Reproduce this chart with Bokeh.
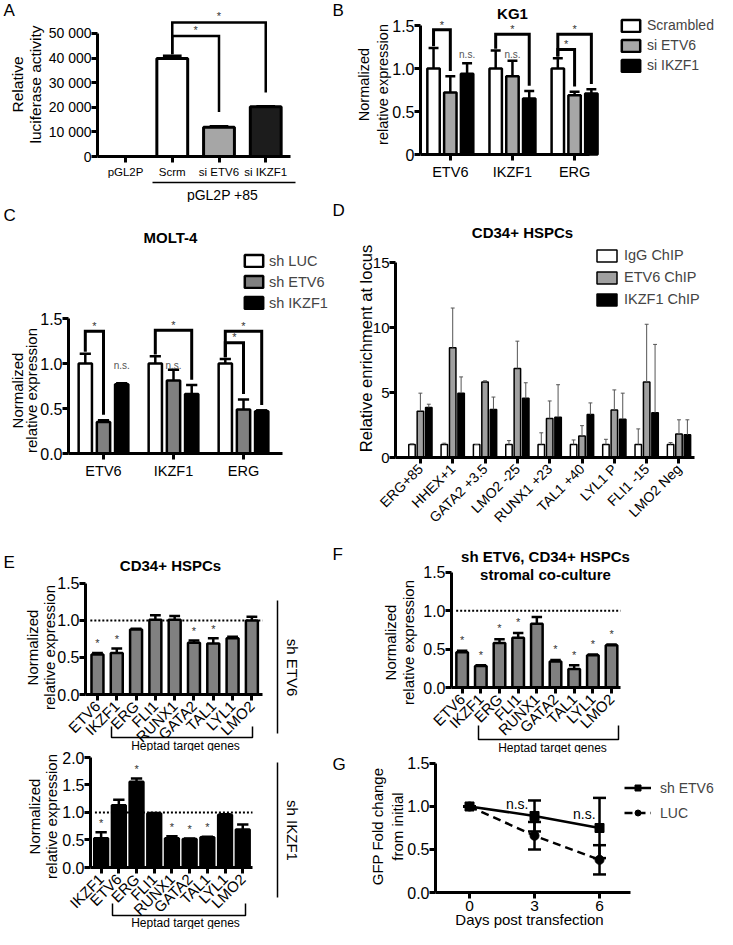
import math
from bokeh.plotting import figure
from bokeh.models import Range1d, Label, Legend, LegendItem, FixedTicker, LinearAxis
from bokeh.layouts import row, column
from bokeh.embed import file_html
from bokeh.resources import INLINE

FONT = "Liberation Sans"

# ---------------- data ----------------
# Panel A
A_labels = ["pGL2P", "Scrm", "si ETV6", "si IKZF1"]
A_values = [0, 39800, 11900, 20200]
A_errors = [0, 1200, 400, 200]
A_yticks = [0, 10000, 20000, 30000, 40000, 50000]
A_yticklabels = ["0", "10 000", "20 000", "30 000", "40 000", "50 000"]

# Panel B (KG1)
B_genes = ["ETV6", "IKZF1", "ERG"]
B_series = ["Scrambled", "si ETV6", "si IKZF1"]
B_scrambled = [1.00, 1.00, 1.00]
B_scrambled_err = [0.24, 0.21, 0.12]
B_si_etv6 = [0.72, 0.91, 0.69]
B_si_etv6_err = [0.19, 0.18, 0.04]
B_si_ikzf1 = [0.94, 0.65, 0.71]
B_si_ikzf1_err = [0.12, 0.09, 0.05]
B_brackets = [(0, 0, 1, 1.45), (1, 0, 2, 1.40), (2, 0, 2, 1.40), (2, 0, 1, 1.22)]
B_ns = [(0, 2), (1, 1)]
B_yticks = [0, 0.5, 1.0, 1.5]
B_yticklabels = ["0", "0.5", "1.0", "1.5"]

# Panel C (MOLT-4)
C_genes = ["ETV6", "IKZF1", "ERG"]
C_series = ["sh LUC", "sh ETV6", "sh IKZF1"]
C_sh_luc = [1.00, 1.00, 1.00]
C_sh_luc_err = [0.11, 0.08, 0.05]
C_sh_etv6 = [0.35, 0.81, 0.49]
C_sh_etv6_err = [0.02, 0.12, 0.11]
C_sh_ikzf1 = [0.77, 0.66, 0.47]
C_sh_ikzf1_err = [0.01, 0.10, 0.01]
C_brackets = [(0, 0, 1, 1.36), (1, 0, 2, 1.37), (2, 0, 2, 1.36), (2, 0, 1, 1.23)]
C_ns = [(0, 2), (1, 1)]
C_yticks = [0, 0.5, 1.0, 1.5]
C_yticklabels = ["0.0", "0.5", "1.0", "1.5"]

# Panel D (ChIP)
D_loci = ["ERG+85", "HHEX+1", "GATA2 +3.5", "LMO2 -25", "RUNX1 +23",
          "TAL1 +40", "LYL1 P", "FLI1 -15", "LMO2 Neg"]
D_series = ["IgG ChIP", "ETV6 ChIP", "IKZF1 ChIP"]
D_igg = [1.0, 1.0, 1.0, 1.0, 1.0, 1.0, 1.0, 1.0, 1.0]
D_igg_err = [0.05, 0.10, 0.0, 0.30, 0.90, 0.35, 0.40, 1.20, 0.15]
D_etv6 = [3.55, 8.45, 5.80, 6.85, 3.00, 1.65, 3.65, 5.80, 1.80]
D_etv6_err = [1.40, 3.05, 0.10, 2.10, 1.35, 0.80, 1.55, 4.45, 1.10]
D_ikzf1 = [3.85, 4.95, 3.70, 4.55, 3.10, 3.30, 2.95, 3.45, 1.75]
D_ikzf1_err = [0.25, 1.25, 0.95, 1.20, 2.50, 0.90, 2.00, 5.25, 1.15]
D_yticks = [0, 5, 10, 15]
D_yticklabels = ["0", "5", "10", "15"]

# Panel E (CD34+ HSPCs)
E1_genes = ["ETV6", "IKZF1", "ERG", "FLI1", "RUNX1", "GATA2", "TAL1", "LYL1", "LMO2"]
E1_values = [0.54, 0.56, 0.88, 1.01, 1.01, 0.70, 0.69, 0.76, 1.00]
E1_errors = [0.02, 0.06, 0.01, 0.06, 0.05, 0.03, 0.07, 0.02, 0.05]
E1_sig = [True, True, False, False, False, True, True, False, False]
E1_yticks = [0, 0.5, 1.0, 1.5]
E1_yticklabels = ["0.0", "0.5", "1.0", "1.5"]

E2_genes = ["IKZF1", "ETV6", "ERG", "FLI1", "RUNX1", "GATA2", "TAL1", "LYL1", "LMO2"]
E2_values = [0.53, 1.13, 1.56, 0.98, 0.53, 0.52, 0.55, 0.96, 0.69]
E2_errors = [0.11, 0.10, 0.06, 0.01, 0.04, 0.005, 0.01, 0.01, 0.09]
E2_sig = [True, False, True, False, True, True, True, False, False]
E2_yticks = [0, 0.5, 1.0, 1.5, 2.0]
E2_yticklabels = ["0.0", "0.5", "1.0", "1.5", "2.0"]

# Panel F (stromal co-culture)
F_genes = ["ETV6", "IKZF1", "ERG", "FLI1", "RUNX1", "GATA2", "TAL1", "LYL1", "LMO2"]
F_values = [0.46, 0.28, 0.58, 0.65, 0.83, 0.34, 0.24, 0.42, 0.55]
F_errors = [0.02, 0.01, 0.05, 0.06, 0.09, 0.02, 0.05, 0.01, 0.01]
F_sig = [True, True, True, True, False, True, True, True, True]
F_yticks = [0, 0.5, 1.0, 1.5]
F_yticklabels = ["0.0", "0.5", "1.0", "1.5"]

# Panel G (GFP time course)
G_days = [0, 3, 6]
G_sh_etv6 = [1.00, 0.89, 0.75]
G_sh_etv6_err = [0.0, 0.18, 0.35]
G_luc = [1.00, 0.66, 0.38]
G_luc_err = [0.0, 0.16, 0.17]
G_ns = [(2.2, 1.03), (5.3, 0.91)]
G_yticks = [0, 0.5, 1.0, 1.5]
G_yticklabels = ["0.0", "0.5", "1.0", "1.5"]


# ---------------- helpers ----------------
class Geo:
    """Figure of W x H px whose axes box sits L/R/T/B px from the edges."""
    def __init__(self, W, H, L, R, T, B, xr, yr):
        self.W, self.H = W, H
        self.xr, self.yr = xr, yr
        u = (xr[1] - xr[0]) / (W - L - R)
        v = (yr[1] - yr[0]) / (H - T - B)
        self.X0, self.X1 = xr[0] - L * u, xr[1] + R * u
        self.Y0, self.Y1 = yr[0] - B * v, yr[1] + T * v

    def dx(self, px):
        return self.X0 + px * (self.X1 - self.X0) / self.W

    def dy(self, py):
        return self.Y1 - py * (self.Y1 - self.Y0) / self.H


def style_axis(ax):
    ax.axis_line_width = 3
    ax.major_tick_line_width = 3
    ax.major_tick_in = 0
    ax.major_tick_out = 6
    ax.minor_tick_line_color = None
    ax.major_label_text_font = FONT
    ax.major_label_text_color = "black"
    ax.major_label_standoff = 3


def make_fig(g, ybounds):
    p = figure(width=g.W, height=g.H, x_range=Range1d(g.X0, g.X1),
               y_range=Range1d(g.Y0, g.Y1), title=None,
               x_axis_location=None, y_axis_location=None,
               output_backend="svg", toolbar_location=None,
               min_border=0, min_border_left=0, min_border_right=0,
               min_border_top=0, min_border_bottom=0)
    p.outline_line_color = None
    p.xgrid.visible = False
    p.ygrid.visible = False
    p.background_fill_color = "white"
    p.border_fill_color = "white"
    xa = LinearAxis(fixed_location=g.yr[0], bounds=(g.xr[0], g.xr[1]))
    ya = LinearAxis(fixed_location=g.xr[0], bounds=ybounds)
    style_axis(xa)
    style_axis(ya)
    ya.major_label_standoff = 0
    p.add_layout(xa, "below")
    p.add_layout(ya, "left")
    return p, xa, ya


def set_ticks(ax, ticks, labels, size, orient=None):
    ax.ticker = FixedTicker(ticks=list(ticks))
    ax.major_label_overrides = {t: l for t, l in zip(ticks, labels)}
    ax.major_label_text_font_size = f"{size}px"
    if orient is not None:
        ax.major_label_orientation = orient


def slabel(p, g, x, y, text, size=15, bold=False, angle=0.0, align="center",
           color="black"):
    p.add_layout(Label(x=g.dx(x), y=g.dy(y), text=text, text_font=FONT,
                       text_font_size=f"{size}px",
                       text_font_style="bold" if bold else "normal",
                       text_align=align, text_baseline="middle",
                       text_color=color, angle=angle))


def dlabel(p, x, y, text, size=11, color="#333333"):
    p.add_layout(Label(x=x, y=y, text=text, text_font=FONT,
                       text_font_size=f"{size}px", text_color=color,
                       text_align="center", text_baseline="middle"))


def sline(p, g, pts, w=1.5):
    p.line(x=[g.dx(a) for a, b in pts], y=[g.dy(b) for a, b in pts],
           line_width=w, line_color="black")


def err_up(p, xs, tops, errs, half, lw=2.5, color="black"):
    hi = [t + e for t, e in zip(tops, errs)]
    p.segment(x0=xs, y0=tops, x1=xs, y1=hi, line_width=lw, line_color=color)
    p.segment(x0=[x - half for x in xs], y0=hi, x1=[x + half for x in xs], y1=hi,
              line_width=lw, line_color=color)


def bracket(p, x1, x2, y, y1b, y2b, lw=3):
    p.line(x=[x1, x1, x2, x2], y=[y1b, y, y, y2b], line_width=lw,
           line_color="black", line_join="miter")


def make_legend(p, g, renderers, labels, left, top, gw, gh, lh, standoff, size=14):
    items = [LegendItem(label=l, renderers=r) for l, r in zip(labels, renderers)]
    bottom = top + lh * len(items)
    leg = Legend(items=items, location=(left, g.H - bottom), glyph_width=gw,
                 glyph_height=gh, label_height=lh, spacing=0, padding=0, margin=0,
                 label_standoff=standoff, label_text_font=FONT,
                 label_text_font_size=f"{size}px", border_line_alpha=0,
                 background_fill_alpha=0)
    p.add_layout(leg)


def grouped(p, series_vals, series_errs, offs, width, fills, lw_bar, lw_err, half,
            err_color="black"):
    rs = []
    for s, (vals, errs) in enumerate(zip(series_vals, series_errs)):
        xs = [k + offs[s] for k in range(len(vals))]
        r = p.vbar(x=xs, top=vals, width=width, bottom=0, fill_color=fills[s],
                   line_color="black", line_width=lw_bar)
        rs.append(r)
        err_up(p, xs, vals, errs, half, lw=lw_err, color=err_color)
    return rs


def single(p, g, vals, errs, width, fill, half):
    xs = list(range(len(vals)))
    p.line(x=[g.xr[0] + 0.25, g.xr[1]], y=[1.0, 1.0], line_color="black",
           line_width=2, line_dash="2 2")
    p.vbar(x=xs, top=vals, width=width, bottom=0, fill_color=fill,
           line_color="black", line_width=2.5)
    err_up(p, xs, vals, errs, half, lw=2.5)
    return xs


# ---------------- Panel A ----------------
gA = Geo(328, 202, 97, 38, 13, 46, (-0.6, 3.53), (0, 58130))
pA, xaA, yaA = make_fig(gA, (0, 50000))
xa = list(range(len(A_labels)))
pA.vbar(x=xa, top=A_values, width=0.66, bottom=0,
        fill_color=["white", "white", "#a6a6a6", "#1c1c1c"],
        line_color="black", line_width=3)
ea = [i for i in xa if A_errors[i] > 0]
err_up(pA, ea, [A_values[i] for i in ea], [A_errors[i] for i in ea], 0.2, lw=2.5)
set_ticks(xaA, xa, A_labels, 11.5)
set_ticks(yaA, A_yticks, A_yticklabels, 14)
topA = [v + e for v, e in zip(A_values, A_errors)]
bracket(pA, 1, 3, 54500, topA[1] + 600, topA[3] + 5600, lw=2.5)
bracket(pA, 1, 2, 49000, topA[1] + 600, topA[2] + 5800, lw=2.5)
dlabel(pA, 2, 57300, "*", 11)
dlabel(pA, 1.5, 51500, "*", 11)
slabel(pA, gA, 3, 10, "A", 17, align="left")
slabel(pA, gA, 17, 84, "Relative", 15.5, angle=math.pi / 2)
slabel(pA, gA, 35, 84, "luciferase activity", 15.5, angle=math.pi / 2)
sline(pA, gA, [(152, 182), (295, 182)], 1.5)
slabel(pA, gA, 222, 194, "pGL2P +85", 14)

# ---------------- Panel B ----------------
gB = Geo(389, 190, 92, 128, 21, 36, (-0.48, 2.24), (0, 1.547))
pB, xaB, yaB = make_fig(gB, (0, 1.5))
B_vals = [B_scrambled, B_si_etv6, B_si_ikzf1]
B_errs = [B_scrambled_err, B_si_etv6_err, B_si_ikzf1_err]
offB = [-0.27, 0.0, 0.27]
rB = grouped(pB, B_vals, B_errs, offB, 0.2, ["white", "#a6a6a6", "black"], 2.5, 2.5, 0.08)
set_ticks(xaB, list(range(len(B_genes))), B_genes, 14.5)
set_ticks(yaB, B_yticks, B_yticklabels, 16)
for (gi, i, j, y) in B_brackets:
    ti = B_vals[i][gi] + B_errs[i][gi]
    tj = B_vals[j][gi] + B_errs[j][gi]
    bracket(pB, gi + offB[i], gi + offB[j], y, ti + 0.02, tj + 0.06)
    dlabel(pB, gi + (offB[i] + offB[j]) / 2, y + 0.06, "*", 11)
for (gi, s) in B_ns:
    dlabel(pB, gi + offB[s], 1.16, "n.s.", 10, "#555555")
make_legend(pB, gB, [[r] for r in rB], B_series, 291, 15, 23, 15, 20, 5, 14)
slabel(pB, gB, 4, 10, "B", 17, align="left")
slabel(pB, gB, 184, 13, "KG1", 15, bold=True)
slabel(pB, gB, 35, 84, "Normalized", 14.5, angle=math.pi / 2)
slabel(pB, gB, 54, 84, "relative expression", 14.5, angle=math.pi / 2)

# ---------------- Panel C ----------------
gC = Geo(328, 298, 68, 46, 111, 47, (-0.5, 2.557), (0, 1.556))
pC, xaC, yaC = make_fig(gC, (0, 1.5))
C_vals = [C_sh_luc, C_sh_etv6, C_sh_ikzf1]
C_errs = [C_sh_luc_err, C_sh_etv6_err, C_sh_ikzf1_err]
offC = [-0.26, 0.0, 0.26]
rC = grouped(pC, C_vals, C_errs, offC, 0.19, ["white", "#808080", "black"], 2.5, 2.5, 0.08)
set_ticks(xaC, list(range(len(C_genes))), C_genes, 14.5)
set_ticks(yaC, C_yticks, C_yticklabels, 16)
for (gi, i, j, y) in C_brackets:
    ti = C_vals[i][gi] + C_errs[i][gi]
    tj = C_vals[j][gi] + C_errs[j][gi]
    bracket(pC, gi + offC[i], gi + offC[j], y, ti + 0.02, tj + 0.06)
    dlabel(pC, gi + (offC[i] + offC[j]) / 2, y + 0.06, "*", 11)
for (gi, s) in C_ns:
    dlabel(pC, gi + offC[s], 0.98, "n.s.", 10, "#555555")
make_legend(pC, gC, [[r] for r in rC], C_series, 242, 48, 23, 15, 21, 4, 14.5)
slabel(pC, gC, 3, 13, "C", 17, align="left")
slabel(pC, gC, 170, 35, "MOLT-4", 15, bold=True)
slabel(pC, gC, 17, 188, "Normalized", 15, angle=math.pi / 2)
slabel(pC, gC, 31, 188, "relative expression", 15, angle=math.pi / 2)

# ---------------- Panel D ----------------
gD = Geo(389, 350, 67, 23, 68, 83, (-0.77, 8.48), (0, 15.31))
pD, xaD, yaD = make_fig(gD, (0, 15))
D_vals = [D_igg, D_etv6, D_ikzf1]
D_errs = [D_igg_err, D_etv6_err, D_ikzf1_err]
offD = [-0.26, 0.0, 0.26]
rD = grouped(pD, D_vals, D_errs, offD, 0.2, ["white", "#a0a0a0", "black"], 1.5, 1, 0.06,
             err_color="#555555")
set_ticks(xaD, list(range(len(D_loci))), D_loci, 14, orient=math.pi / 4)
set_ticks(yaD, D_yticks, D_yticklabels, 15)
make_legend(pD, gD, [[r] for r in rD], D_series, 266, 54, 25, 15, 22, 5, 14.5)
slabel(pD, gD, 4, 20, "D", 17, align="left")
slabel(pD, gD, 194, 42, "CD34+ HSPCs", 15, bold=True)
slabel(pD, gD, 37, 158, "Relative enrichment at locus", 16.5, angle=math.pi / 2)

# ---------------- Panel E (top) ----------------
gE1 = Geo(328, 251, 85, 66, 79, 57, (-0.62, 8.55), (0, 1.554))
pE1, xaE1, yaE1 = make_fig(gE1, (0, 1.5))
xe1 = single(pE1, gE1, E1_values, E1_errors, 0.62, "#808080", 0.28)
set_ticks(xaE1, xe1, E1_genes, 15, orient=math.pi / 4)
set_ticks(yaE1, E1_yticks, E1_yticklabels, 16)
for i, s in enumerate(E1_sig):
    if s:
        dlabel(pE1, i, E1_values[i] + E1_errors[i] + 0.13, "*", 11)
slabel(pE1, gE1, 3, 62, "E", 17, align="left")
slabel(pE1, gE1, 170, 65, "CD34+ HSPCs", 15, bold=True)
slabel(pE1, gE1, 32, 147, "Normalized", 15, angle=math.pi / 2)
slabel(pE1, gE1, 49, 147, "relative expression", 15, angle=math.pi / 2)
sline(pE1, gE1, [(277, 100), (277, 233)], 1.5)
slabel(pE1, gE1, 292, 167, "sh ETV6", 15, angle=-math.pi / 2)
sline(pE1, gE1, [(111, 226), (111, 237), (252, 237), (252, 226)], 1.5)
slabel(pE1, gE1, 185, 245, "Heptad target genes", 12)

# ---------------- Panel E (bottom) ----------------
gE2 = Geo(328, 178, 90, 76, 3, 62, (-0.6, 8.55), (0, 2.0545))
pE2, xaE2, yaE2 = make_fig(gE2, (0, 2.0))
xe2 = single(pE2, gE2, E2_values, E2_errors, 0.78, "black", 0.32)
set_ticks(xaE2, xe2, E2_genes, 15, orient=math.pi / 4)
set_ticks(yaE2, E2_yticks, E2_yticklabels, 16)
for i, s in enumerate(E2_sig):
    if s:
        dlabel(pE2, i, E2_values[i] + E2_errors[i] + 0.17, "*", 11)
slabel(pE2, gE2, 34, 65, "Normalized", 15, angle=math.pi / 2)
slabel(pE2, gE2, 51, 65, "relative expression", 15, angle=math.pi / 2)
sline(pE2, gE2, [(277, 11), (277, 146)], 1.5)
slabel(pE2, gE2, 292, 79, "sh IKZF1", 15, angle=-math.pi / 2)
sline(pE2, gE2, [(112, 152), (112, 164), (245, 164), (245, 152)], 1.5)
slabel(pE2, gE2, 185, 171, "Heptad target genes", 12)

# ---------------- Panel F ----------------
gF = Geo(389, 213, 123, 97, 30, 66, (-0.57, 8.48), (0, 1.525))
pF, xaF, yaF = make_fig(gF, (0, 1.5))
xf = single(pF, gF, F_values, F_errors, 0.62, "#808080", 0.28)
set_ticks(xaF, xf, F_genes, 15, orient=math.pi / 4)
set_ticks(yaF, F_yticks, F_yticklabels, 16)
for i, s in enumerate(F_sig):
    if s:
        dlabel(pF, i, F_values[i] + F_errors[i] + 0.14, "*", 11)
slabel(pF, gF, 4, 14, "F", 17, align="left")
slabel(pF, gF, 217, 16, "sh ETV6, CD34+ HSPCs", 15, bold=True)
slabel(pF, gF, 217, 34, "stromal co-culture", 15, bold=True)
slabel(pF, gF, 62, 102, "Normalized", 15, angle=math.pi / 2)
slabel(pF, gF, 80, 102, "relative expression", 15, angle=math.pi / 2)
sline(pF, gF, [(150, 185), (150, 199), (290, 199), (290, 185)], 1.5)
slabel(pF, gF, 224, 207, "Heptad target genes", 12)

# ---------------- Panel G ----------------
gG = Geo(389, 176, 107, 87, 5, 37, (-1.57, 7.43), (0, 1.558))
pG, xaG, yaG = make_fig(gG, (0, 1.5))
l1 = pG.line(G_days, G_sh_etv6, line_width=2.5, line_color="black")
m1 = pG.scatter(G_days, G_sh_etv6, marker="square", size=9, color="black")
l2 = pG.line(G_days, G_luc, line_width=2.5, line_color="black", line_dash="8 5")
m2 = pG.scatter(G_days, G_luc, marker="circle", size=9, color="black")
for vals, errs in ((G_sh_etv6, G_sh_etv6_err), (G_luc, G_luc_err)):
    lo = [v - e for v, e in zip(vals, errs)]
    hi = [v + e for v, e in zip(vals, errs)]
    pG.segment(x0=G_days, y0=lo, x1=G_days, y1=hi, line_width=2.5, line_color="black")
    for yy in (lo, hi):
        pG.segment(x0=[d - 0.3 for d in G_days], y0=yy, x1=[d + 0.3 for d in G_days],
                   y1=yy, line_width=2.5, line_color="black")
set_ticks(xaG, G_days, [str(d) for d in G_days], 15.5)
xaG.major_label_standoff = 2
set_ticks(yaG, G_yticks, G_yticklabels, 16)
for (x, y) in G_ns:
    dlabel(pG, x, y, "n.s.", 14, "black")
make_legend(pG, gG, [[l1, m1], [l2, m2]], ["sh ETV6", "LUC"], 296, 22, 27, 15, 25, 9, 14)
slabel(pG, gG, 4, 11, "G", 17, align="left")
slabel(pG, gG, 49, 73, "GFP Fold change", 15, angle=math.pi / 2)
slabel(pG, gG, 69, 73, "from initial", 15, angle=math.pi / 2)
slabel(pG, gG, 201, 166, "Days post transfection", 15)

layout = row(column(pA, pC, pE1, pE2), column(pB, pD, pF, pG))
open("out.html", "w").write(file_html(layout, INLINE))
